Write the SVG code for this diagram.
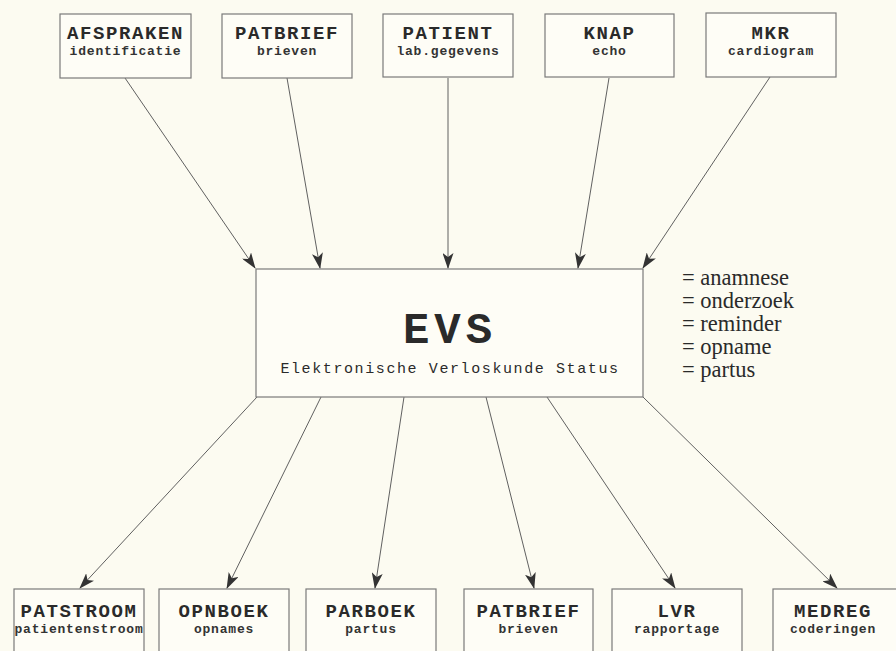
<svg xmlns="http://www.w3.org/2000/svg" width="896" height="651" viewBox="0 0 896 651">
<defs>
<style>
.box{fill:#fefdf6;stroke:#7a7a7a;stroke-width:1.2}
.t{font-family:"Liberation Mono","Courier New",monospace;font-weight:bold;font-size:19px;letter-spacing:1.6px;fill:#2a2a2a;text-anchor:middle}
.s{font-family:"Liberation Mono","Courier New",monospace;font-weight:bold;font-size:13px;letter-spacing:0.8px;fill:#333;text-anchor:middle}
.evs{font-family:"Liberation Mono","Courier New",monospace;font-weight:bold;font-size:44px;letter-spacing:5px;fill:#2a2a2a;text-anchor:middle}
.evss{font-family:"Liberation Mono","Courier New",monospace;font-size:15px;letter-spacing:1.6px;fill:#2a2a2a;text-anchor:middle}
.l{font-family:"Liberation Serif","Times New Roman",serif;font-size:22.5px;fill:#2a2a2a}
.c{stroke:#606060;stroke-width:1;fill:none;marker-end:url(#ah)}
</style>
<marker id="ah" viewBox="0 0 16 11" refX="15" refY="5.5" markerWidth="16" markerHeight="11" markerUnits="userSpaceOnUse" orient="auto">
<path d="M0,0 L16,5.5 L0,11 L4,5.5 Z" fill="#333"/>
</marker>
</defs>
<rect width="896" height="651" fill="#fcfbf1"/>
<g id="connectors">
<line class="c" x1="125" y1="78" x2="255" y2="268"/>
<line class="c" x1="287" y1="78" x2="320" y2="268"/>
<line class="c" x1="448" y1="78" x2="448" y2="268"/>
<line class="c" x1="609" y1="78" x2="578" y2="268"/>
<line class="c" x1="770" y1="77" x2="643" y2="268"/>
<line class="c" x1="257" y1="397" x2="80" y2="588"/>
<line class="c" x1="321" y1="397" x2="227" y2="588"/>
<line class="c" x1="404" y1="397" x2="375" y2="588"/>
<line class="c" x1="486" y1="397" x2="534" y2="588"/>
<line class="c" x1="547" y1="397" x2="675" y2="588"/>
<line class="c" x1="643" y1="397" x2="837" y2="588"/>
</g>
<g id="afspraken"><rect class="box" x="60" y="14" width="131" height="64"/><text class="t" x="125.5" y="39">AFSPRAKEN</text><text class="s" x="125.5" y="55">identificatie</text></g>
<g id="patbrief-top"><rect class="box" x="222" y="14" width="130" height="64"/><text class="t" x="287" y="39">PATBRIEF</text><text class="s" x="287" y="55">brieven</text></g>
<g id="patient"><rect class="box" x="383" y="14" width="130" height="63"/><text class="t" x="448" y="39">PATIENT</text><text class="s" x="448" y="55">lab.gegevens</text></g>
<g id="knap"><rect class="box" x="545" y="14" width="129" height="63"/><text class="t" x="609.5" y="39">KNAP</text><text class="s" x="609.5" y="55">echo</text></g>
<g id="mkr"><rect class="box" x="706" y="13" width="130" height="64"/><text class="t" x="771" y="39">MKR</text><text class="s" x="771" y="55">cardiogram</text></g>
<g id="evs"><rect class="box" x="256" y="269" width="387" height="128"/><text class="evs" x="450" y="343">EVS</text><text class="evss" x="450" y="373">Elektronische Verloskunde Status</text></g>
<g id="legend">
<text class="l" x="682" y="285">= anamnese</text>
<text class="l" x="682" y="308">= onderzoek</text>
<text class="l" x="682" y="331">= reminder</text>
<text class="l" x="682" y="354">= opname</text>
<text class="l" x="682" y="377">= partus</text>
</g>
<g id="patstroom"><rect class="box" x="14" y="589" width="130" height="70"/><text class="t" x="79" y="617">PATSTROOM</text><text class="s" x="79" y="633">patientenstroom</text></g>
<g id="opnboek"><rect class="box" x="159" y="589" width="130" height="70"/><text class="t" x="224" y="617">OPNBOEK</text><text class="s" x="224" y="633">opnames</text></g>
<g id="parboek"><rect class="box" x="306" y="589" width="130" height="70"/><text class="t" x="371" y="617">PARBOEK</text><text class="s" x="371" y="633">partus</text></g>
<g id="patbrief-bottom"><rect class="box" x="464" y="589" width="129" height="70"/><text class="t" x="528.5" y="617">PATBRIEF</text><text class="s" x="528.5" y="633">brieven</text></g>
<g id="lvr"><rect class="box" x="612" y="589" width="130" height="70"/><text class="t" x="677" y="617">LVR</text><text class="s" x="677" y="633">rapportage</text></g>
<g id="medreg"><rect class="box" x="773" y="589" width="130" height="70"/><text class="t" x="833" y="617">MEDREG</text><text class="s" x="833" y="633">coderingen</text></g>
</svg>
